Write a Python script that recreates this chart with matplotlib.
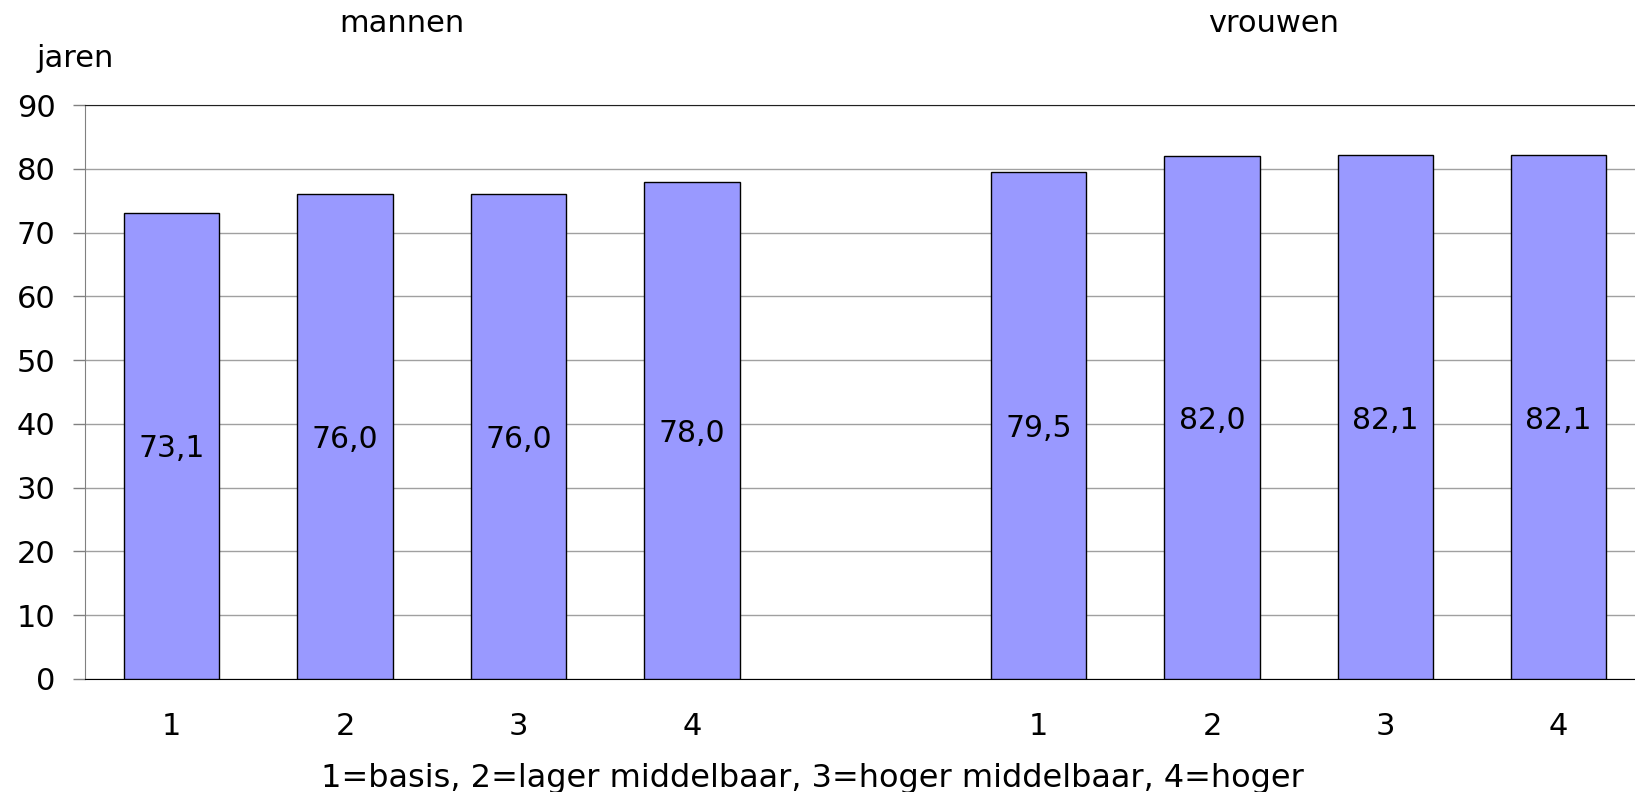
import matplotlib.pyplot as plt

plt.rcParams['font.family'] = ['DejaVu Sans']

groups = ['mannen', 'vrouwen']
categories = ['1', '2', '3', '4']
mannen = [73.1, 76.0, 76.0, 78.0]
vrouwen = [79.5, 82.0, 82.1, 82.1]
value_labels_m = ['73,1', '76,0', '76,0', '78,0']
value_labels_v = ['79,5', '82,0', '82,1', '82,1']

pos_m = [0, 1, 2, 3]
pos_v = [5, 6, 7, 8]

W, H = 1635, 792
fig = plt.figure(figsize=(W / 100, H / 100), dpi=100)
ax = fig.add_axes([85 / W, 1 - 679 / H, 1 - 85 / W, (679 - 105) / H])

bar_color = '#9999ff'
ax.bar(pos_m, mannen, width=0.55, color=bar_color, edgecolor='black', linewidth=1, zorder=3)
ax.bar(pos_v, vrouwen, width=0.55, color=bar_color, edgecolor='black', linewidth=1, zorder=3)

for p, v, lab in zip(pos_m + pos_v, mannen + vrouwen, value_labels_m + value_labels_v):
    ax.text(p, v / 2, lab, ha='center', va='center_baseline', fontsize=21.5, zorder=4)

ax.set_xlim(-0.5, 8.44)
ax.set_ylim(0, 90)
ax.set_yticks(range(0, 91, 10))
ax.set_xticks(pos_m + pos_v)
ax.set_xticklabels(categories + categories)
ax.tick_params(axis='y', labelsize=22, length=8.6, width=1, color='#808080', pad=12.5)
ax.tick_params(axis='x', labelsize=22, length=0, pad=24)

ax.grid(axis='y', color='#a0a0a0', linewidth=1, zorder=0)
ax.spines['left'].set_color('#808080')
ax.spines['right'].set_visible(False)
ax.spines['top'].set_color('#202020')
ax.spines['bottom'].set_color('black')

fig.text(812 / W, 1 - 787 / H, '1=basis, 2=lager middelbaar, 3=hoger middelbaar, 4=hoger',
         ha='center', va='baseline', fontsize=23)
fig.text(75 / W, 1 - 67 / H, 'jaren', ha='center', va='baseline', fontsize=22)
fig.text(402 / W, 1 - 32 / H, groups[0], ha='center', va='baseline', fontsize=22)
fig.text(1274 / W, 1 - 32 / H, groups[1], ha='center', va='baseline', fontsize=22)

fig.savefig('out.png', dpi=100)
